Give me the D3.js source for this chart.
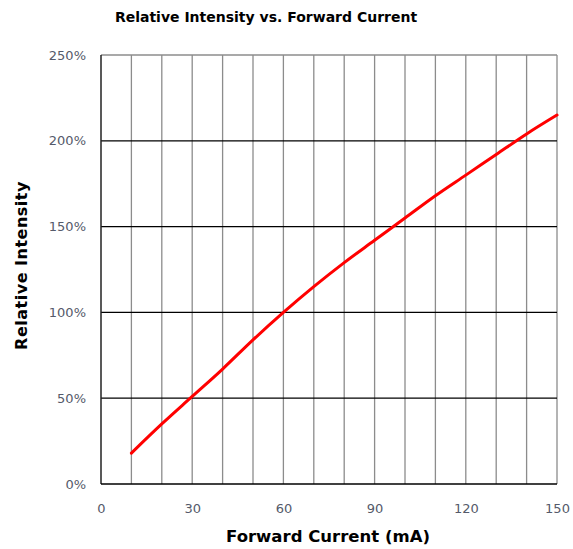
<!DOCTYPE html>
<html><head><meta charset="utf-8">
<script src="https://cdn.jsdelivr.net/npm/d3@7"></script>
<style>body{margin:0;background:#fff}svg{display:block}</style>
</head><body>
<svg id="c" width="573" height="549"></svg>
<script>
const currents = [10,20,30,40,50,60,70,80,90,100,110,120,130,140,150];
const intensity = [18,35,51,67,84,100,115,129,142,155,168,180,192,204,215];
const xTicks = [0,30,60,90,120,150];
const yTicks = [0,50,100,150,200,250];
const title = "Relative Intensity vs. Forward Current";
const xLabel = "Forward Current (mA)";
const yLabel = "Relative Intensity";

const svg = d3.select("#c");
const m = {l:101, r:557, t:55, b:484};
const x = d3.scaleLinear().domain([0,150]).range([m.l,m.r]);
const y = d3.scaleLinear().domain([0,250]).range([m.b,m.t]);

// vertical grid
svg.append("g").selectAll("line").data(d3.range(10,151,10)).join("line")
  .attr("x1",d=>x(d)).attr("x2",d=>x(d)).attr("y1",m.t).attr("y2",m.b)
  .attr("stroke","#8c8c8c").attr("stroke-width",1.3);
// top border
svg.append("line").attr("x1",m.l).attr("x2",m.r).attr("y1",m.t).attr("y2",m.t)
  .attr("stroke","#8c8c8c").attr("stroke-width",1.3);
// horizontal grid
svg.append("g").selectAll("line").data([50,100,150,200]).join("line")
  .attr("x1",m.l).attr("x2",m.r).attr("y1",d=>y(d)).attr("y2",d=>y(d))
  .attr("stroke","#000").attr("stroke-width",1.3);
// axes lines
svg.append("line").attr("x1",m.l).attr("x2",m.l).attr("y1",m.t).attr("y2",m.b).attr("stroke","#222").attr("stroke-width",1.5);
svg.append("line").attr("x1",m.l).attr("x2",m.r).attr("y1",m.b).attr("y2",m.b).attr("stroke","#000").attr("stroke-width",1.5);

// axis tick labels via d3 axes
const xa = svg.append("g").attr("transform",`translate(0,${m.b})`)
  .call(d3.axisBottom(x).tickValues(xTicks).tickSize(0).tickPadding(20).tickFormat(d3.format("d")));
xa.select(".domain").remove();
xa.selectAll("text").attr("font-family","DejaVu Sans").attr("font-size",13).attr("fill","#555a6a");
const ya = svg.append("g").attr("transform",`translate(${m.l},0)`)
  .call(d3.axisLeft(y).tickValues(yTicks).tickSize(0).tickPadding(15).tickFormat(d=>d+"%"));
ya.select(".domain").remove();
ya.selectAll("text").attr("font-family","DejaVu Sans").attr("font-size",13).attr("fill","#555a6a");

// curve
const line = d3.line().x((d,i)=>x(currents[i])).y(d=>y(d)).curve(d3.curveMonotoneX);
svg.append("path").datum(intensity).attr("d",line).attr("fill","none")
  .attr("stroke","#ff0000").attr("stroke-width",3).attr("stroke-linecap","round");

// titles
svg.append("text").attr("x",266).attr("y",22).attr("text-anchor","middle")
  .attr("font-family","DejaVu Sans").attr("font-weight","bold").attr("font-size",14).text(title);
svg.append("text").attr("x",328).attr("y",542).attr("text-anchor","middle")
  .attr("font-family","DejaVu Sans").attr("font-weight","bold").attr("font-size",16.5).text(xLabel);
svg.append("text").attr("transform",`translate(27,${(m.t+m.b)/2-4}) rotate(-90)`).attr("text-anchor","middle")
  .attr("font-family","DejaVu Sans").attr("font-weight","bold").attr("font-size",16).attr("letter-spacing",0.5).text(yLabel);
</script>
</body></html>
